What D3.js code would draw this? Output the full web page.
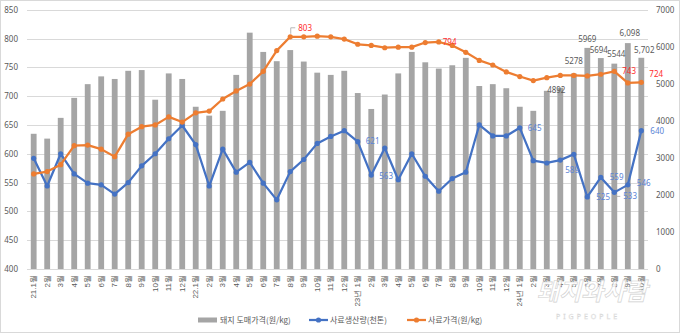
<!DOCTYPE html>
<html>
<head>
<meta charset="utf-8">
<script src="https://cdn.jsdelivr.net/npm/d3@7"></script>
<style>
  html, body { margin: 0; padding: 0; background: #fff; }
  svg { display: block; font-family: "Noto Sans CJK KR", "Noto Sans", sans-serif; }
</style>
</head>
<body>
<svg id="chart" width="680" height="333"></svg>
<script>
// Month labels, Jan 2021 – Oct 2024
const months = [
  "21.1월","2월","3월","4월","5월","6월","7월","8월","9월","10월","11월","12월",
  "22.1월","2월","3월","4월","5월","6월","7월","8월","9월","10월","11월","12월",
  "23년 1월","2월","3월","4월","5월","6월","7월","8월","9월","10월","11월","12월",
  "24년 1월","2월","3월","4월","5월","6월","7월","8월","9월","10월"
];

// 돼지 도매가격 (원/kg) – bars, right axis
const pigPrice = [
  3650, 3520, 4080, 4620, 4990, 5200, 5130, 5350, 5370, 4570, 5280, 5130,
  4380, 4140, 4270, 5240, 6380, 5860, 5610, 5910, 5600, 5300, 5240, 5350,
  4750, 4320, 4710, 5280, 5860, 5580, 5410, 5500, 5700, 4940, 4990, 4880,
  4380, 4270, 4810, 4892, 5278, 5969, 5694, 5544, 6098, 5702
];

// 사료생산량 (천톤) – blue line, left axis
const feedOutput = [
  592, 544, 600, 565, 549, 546, 530, 550, 579, 600, 626, 649,
  616, 544, 608, 568, 585, 549, 520, 569, 590, 618, 630, 640,
  621, 563, 610, 555, 600, 561, 535, 557, 568, 650, 631, 631,
  645, 588, 584, 589, 599, 525, 559, 533, 546, 640
];

// 사료가격 (원/kg) – orange line, left axis
const feedPrice = [
  565, 569, 581, 614, 615, 608, 595, 634, 647, 650, 664, 655,
  671, 674, 695, 709, 721, 743, 779, 803, 803, 804, 803, 799,
  790, 788, 784, 785, 785, 793, 794, 788, 776, 762, 754, 742,
  734, 727, 732, 736, 736, 735, 738, 743, 723, 724
];

const leftTicks = [400, 450, 500, 550, 600, 650, 700, 750, 800, 850];
const rightTicks = [0, 1000, 2000, 3000, 4000, 5000, 6000, 7000];

const seriesNames = ["돼지 도매가격(원/kg)", "사료생산량(천톤)", "사료가격(원/kg)"];

// which points carry value labels (index in the month list)
const pigLabelIdx = [39, 40, 41, 42, 43, 44, 45];
const pigLabelText = ["4892", "5278", "5969", "5694", "5544", "6,098", "5,702"];
const outputLabelIdx = [24, 25, 36, 39, 41, 42, 43, 44, 45];
const priceLabelIdx = [19, 30, 43, 45];

// ---- layout ----
const W = 680, H = 333;
const plot = { left: 27, right: 648, top: 9.7, bottom: 269 };
const C = { bar: "#a5a5a5", blue: "#4472c4", orange: "#ed7d31", grid: "#d9d9d9",
            text: "#595959", blueLbl: "#5b84d6", redLbl: "#ff2b2b" };

const svg = d3.select("#chart");

// outer frame
svg.append("rect").attr("x", 0.5).attr("y", 0.5).attr("width", W - 1).attr("height", H - 1)
  .attr("fill", "#fff").attr("stroke", "#d9d9d9");

const x = d3.scaleBand().domain(d3.range(months.length))
  .range([plot.left, plot.right]).paddingInner(0.57).paddingOuter(0.28);
const cx = i => x(i) + x.bandwidth() / 2;
const yL = d3.scaleLinear().domain([400, 850]).range([plot.bottom, plot.top]);
const yR = d3.scaleLinear().domain([0, 7000]).range([plot.bottom, plot.top]);

// gridlines (left axis)
svg.append("g").selectAll("line").data(leftTicks).join("line")
  .attr("x1", plot.left).attr("x2", plot.right)
  .attr("y1", d => Math.round(yL(d)) + 0.5).attr("y2", d => Math.round(yL(d)) + 0.5)
  .attr("stroke", C.grid).attr("stroke-width", 1);

// left axis labels
const axL = d3.axisLeft(yL).tickValues(leftTicks).tickFormat(d3.format("d")).tickSize(0).tickPadding(0);
const gL = svg.append("g").attr("transform", `translate(${plot.left - 9},0)`).call(axL);
gL.select(".domain").remove();
gL.selectAll("text").attr("fill", C.text).style("font-size", "8px")
  .style("font-family", "'Noto Sans', sans-serif");

// right axis labels
const axR = d3.axisRight(yR).tickValues(rightTicks).tickFormat(d3.format("d")).tickSize(0).tickPadding(0);
const gR = svg.append("g").attr("transform", `translate(${plot.right + 8},0)`).call(axR);
gR.select(".domain").remove();
gR.selectAll("text").attr("fill", C.text).style("font-size", "8px")
  .style("font-family", "'Noto Sans', sans-serif");

// bars
svg.append("g").selectAll("rect").data(pigPrice).join("rect")
  .attr("x", (d, i) => x(i)).attr("width", x.bandwidth())
  .attr("y", d => yR(d)).attr("height", d => yR(0) - yR(d))
  .attr("fill", C.bar);

// x labels, rotated
const axX = d3.axisBottom(x).tickFormat(i => months[i]).tickSize(0).tickPadding(0);
const gX = svg.append("g").attr("transform", `translate(0,${plot.bottom})`).call(axX);
gX.select(".domain").remove();
gX.selectAll("text")
  .attr("transform", "rotate(-90)")
  .attr("x", -6).attr("y", 0).attr("dy", "0.32em")
  .attr("text-anchor", "end")
  .attr("fill", C.text).style("font-size", "8px");

// lines
function drawLine(values, color) {
  const line = d3.line().x((d, i) => cx(i)).y(d => yL(d));
  const g = svg.append("g");
  g.append("path").datum(values).attr("d", line)
    .attr("fill", "none").attr("stroke", color).attr("stroke-width", 2.25)
    .attr("stroke-linejoin", "round").attr("stroke-linecap", "round");
  g.selectAll("circle").data(values).join("circle")
    .attr("cx", (d, i) => cx(i)).attr("cy", d => yL(d)).attr("r", 2.6)
    .attr("fill", color);
}
drawLine(feedOutput, C.blue);
drawLine(feedPrice, C.orange);

// value labels
const numFont = "'Noto Sans', sans-serif";
const barNudge = { 39: [-4, 2], 40: [0, -12], 41: [0, -9], 42: [-2, -8], 43: [2, -9], 44: [2, -9.5], 45: [3, -8] };
svg.append("g").selectAll("text").data(pigLabelIdx).join("text")
  .attr("x", i => cx(i) + barNudge[i][0])
  .attr("y", i => yR(pigPrice[i]) + barNudge[i][1])
  .attr("dy", "0.35em").attr("text-anchor", "middle")
  .attr("fill", C.text).style("font-size", "8px").style("font-family", numFont)
  .text((i, k) => pigLabelText[k]);

const outNudge = { 24: [8, 0], 25: [8, 1], 36: [8, 0], 39: [5, 10], 41: [9, 0], 42: [9, 0], 43: [9, 4], 44: [9, -1.5], 45: [9, 0] };
svg.append("g").selectAll("text").data(outputLabelIdx).join("text")
  .attr("x", i => cx(i) + outNudge[i][0])
  .attr("y", i => yL(feedOutput[i]) + outNudge[i][1])
  .attr("dy", "0.35em")
  .attr("fill", C.blueLbl).style("font-size", "8px").style("font-family", numFont)
  .text(i => feedOutput[i]);
// leader for the 533 label
svg.append("line")
  .attr("x1", cx(43) + 2.5).attr("x2", cx(43) + 6)
  .attr("y1", yL(feedOutput[43]) + 4).attr("y2", yL(feedOutput[43]) + 4)
  .attr("stroke", "#a6a6a6").attr("stroke-width", 0.8);

const priceNudge = { 19: [8, -9], 30: [4, 0], 43: [8, 0], 45: [8, -8] };
svg.append("g").selectAll("text").data(priceLabelIdx).join("text")
  .attr("x", i => cx(i) + priceNudge[i][0])
  .attr("y", i => yL(feedPrice[i]) + priceNudge[i][1])
  .attr("dy", "0.35em")
  .attr("fill", C.redLbl).style("font-size", "8px").style("font-family", numFont)
  .text(i => feedPrice[i]);
// leader for the 803 label
{
  const px = cx(19), py = yL(feedPrice[19]);
  svg.append("path")
    .attr("d", `M${px + 0.5},${py - 3} L${px + 0.5},${py - 9} L${px + 5},${py - 9}`)
    .attr("fill", "none").attr("stroke", "#a6a6a6").attr("stroke-width", 0.8);
}

// legend
const legend = svg.append("g").attr("transform", "translate(0,320)");
legend.append("rect").attr("x", 198).attr("y", -2.5).attr("width", 19).attr("height", 5).attr("fill", C.bar);
legend.append("text").attr("x", 220).attr("y", 0).attr("dy", "0.35em")
  .attr("fill", C.text).style("font-size", "8px").text(seriesNames[0]);

legend.append("line").attr("x1", 309).attr("x2", 328).attr("y1", 0).attr("y2", 0)
  .attr("stroke", C.blue).attr("stroke-width", 2.25);
legend.append("circle").attr("cx", 318.5).attr("cy", 0).attr("r", 2.6).attr("fill", C.blue);
legend.append("text").attr("x", 330).attr("y", 0).attr("dy", "0.35em")
  .attr("fill", C.text).style("font-size", "8px").text(seriesNames[1]);

legend.append("line").attr("x1", 407).attr("x2", 426).attr("y1", 0).attr("y2", 0)
  .attr("stroke", C.orange).attr("stroke-width", 2.25);
legend.append("circle").attr("cx", 416.5).attr("cy", 0).attr("r", 2.6).attr("fill", C.orange);
legend.append("text").attr("x", 428).attr("y", 0).attr("dy", "0.35em")
  .attr("fill", C.text).style("font-size", "8px").text(seriesNames[2]);

// publisher mark, lower right
const wm = svg.append("g").attr("opacity", 0.85);
wm.append("text").attr("x", 592).attr("y", 300).attr("text-anchor", "middle")
  .attr("fill", "#fff").attr("stroke", "#c8c8c8").attr("stroke-width", 0.6)
  .style("font-size", "24px").style("font-weight", "bold").style("font-style", "italic")
  .text("돼지와사람");
wm.append("text").attr("x", 588).attr("y", 319).attr("text-anchor", "middle")
  .attr("fill", "#fff").attr("stroke", "#d0d0d0").attr("stroke-width", 0.4)
  .style("font-size", "7px").style("letter-spacing", "3px").style("font-family", numFont)
  .text("PIGPEOPLE");
</script>
</body>
</html>
